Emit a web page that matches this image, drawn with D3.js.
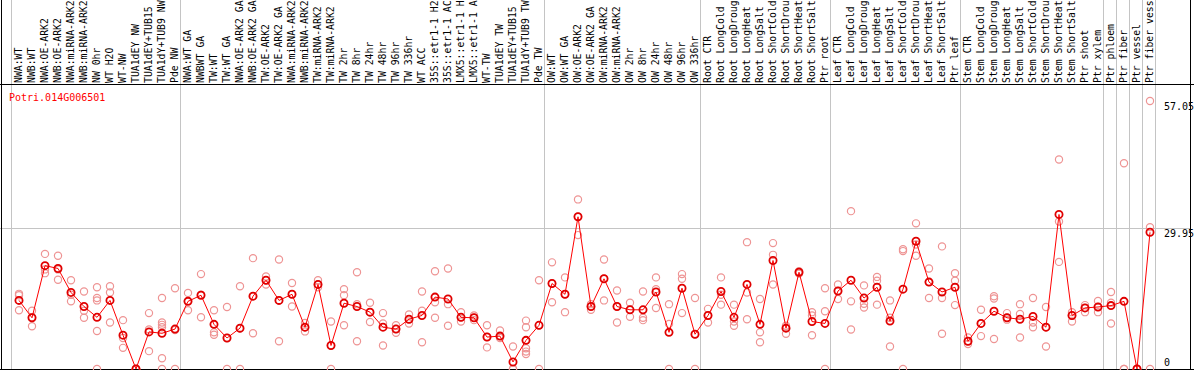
<!DOCTYPE html>
<html>
<head>
<meta charset="utf-8">
<script src="https://cdn.jsdelivr.net/npm/d3@7"></script>
<style>
  html, body { margin: 0; padding: 0; background: #fff; }
  svg { display: block; }
  text { font-family: "DejaVu Sans Mono", "Liberation Mono", monospace; font-size: 10px; }
  .cat { font-size: 9.8px; }
</style>
</head>
<body>
<div id="chart"></div>
<script>
const title = "Potri.014G006501";

const categories = [
  "NWA:WT", "NWB:WT", "NWA:OE-ARK2", "NWB:OE-ARK2", "NWA:miRNA-ARK2", "NWB:miRNA-ARK2",
  "NW 0hr", "WT H2O", "WT-NW", "TUA1dEY NW", "TUA1dEY+TUB15 NW", "TUA1dY+TUB9 NW", "Pde NW",
  "NWA:WT GA", "NWBWT GA", "TW:WT", "TW:WT GA", "NWA:OE-ARK2 GA", "NWB:OE-ARK2 GA",
  "TW:OE-ARK2", "TW:OE-ARK2 GA", "NWA:miRNA-ARK2 GA", "NWB:miRNA-ARK2 GA", "TW:miRNA-ARK2",
  "TW:miRNA-ARK2 GA", "TW 2hr", "TW 8hr", "TW 24hr", "TW 48hr", "TW 96hr", "TW 336hr",
  "WT ACC", "35S::etr1-1 H2O", "35S::etr1-1 ACC", "LMX5::etr1-1 H2O", "LMX5::etr1-1 ACC",
  "WT-TW", "TUA1dEY TW", "TUA1dEY+TUB15 TW", "TUA1dY+TUB9 TW", "Pde TW",
  "OW:WT", "OW:WT GA", "OW:OE-ARK2", "OW:OE-ARK2 GA", "OW:miRNA-ARK2", "OW:miRNA-ARK2 GA",
  "OW 2hr", "OW 8hr", "OW 24hr", "OW 48hr", "OW 96hr", "OW 336hr",
  "Root CTR", "Root LongCold", "Root LongDrought", "Root LongHeat", "Root LongSalt",
  "Root ShortCold", "Root ShortDrought", "Root ShortHeat", "Root ShortSalt", "Ptr root",
  "Leaf CTR", "Leaf LongCold", "Leaf LongDrought", "Leaf LongHeat", "Leaf LongSalt",
  "Leaf ShortCold", "Leaf ShortDrought", "Leaf ShortHeat", "Leaf ShortSalt", "Ptr leaf",
  "Stem CTR", "Stem LongCold", "Stem LongDrought", "Stem LongHeat", "Stem LongSalt",
  "Stem ShortCold", "Stem ShortDrought", "Stem ShortHeat", "Stem ShortSalt", "Ptr shoot",
  "Ptr xylem", "Ptr phloem", "Ptr fiber", "Ptr vessel", "Ptr fiber vessel"
];

// index of the last category of each group (-1 = before the first)
const groupEnds = [-1, 12, 40, 52, 62, 72, 83, 84, 85, 86, 87];

const means = [
  14.6, 10.9, 22.0, 21.4, 16.3, 13.3, 11.0, 14.6, 7.2, 0,
  7.9, 7.6, 8.5, 14.4, 15.7, 9.5, 6.6, 8.7, 15.5, 18.9,
  14.6, 15.9, 8.9, 18.0, 5.0, 14.0, 13.3, 12.1, 8.9, 8.5,
  10.6, 11.4, 15.3, 14.9, 11.0, 10.9, 6.8, 7.0, 1.5, 6.1,
  9.3, 18.2, 15.9, 32.4, 13.3, 19.2, 13.3, 12.6, 12.6, 16.4,
  7.8, 17.2, 7.4, 11.4, 16.5, 11.0, 18.0, 9.5, 23.1, 8.7,
  20.6, 10.1, 9.7, 16.6, 18.9, 15.1, 17.4, 10.2, 17.0, 27.2,
  18.5, 16.4, 17.4, 5.9, 9.7, 12.3, 10.9, 10.6, 11.2, 8.9,
  32.9, 11.4, 13.0, 13.2, 13.5, 14.4, 0, 29.1
];

const replicates = [
  [16.0, 15.7, 12.5], [12.4, 11.0, 9.1], [24.5, 21.2, 20.4], [24.1, 21.2, 19.0],
  [18.9, 15.8, 14.4], [16.5, 12.4, 10.9], [17.4, 15.1, 14.6, 8.1, 0], [17.6, 16.3, 9.9],
  [10.4, 6.6, 4.5], [0, 0, 0], [11.9, 8.4, 3.8], [15.1, 9.9, 9.4, 8.9, 2.3, 0],
  [17.2, 8.3, 0], [16.2, 14.5, 12.5], [20.2, 15.8, 11.0], [12.5, 7.8, 7.3],
  [13.2, 6.6, 0], [17.6, 8.6, 0], [23.6, 15.5, 7.6], [19.7, 18.9, 18.0],
  [23.3, 14.6, 5.9], [18.3, 15.9, 13.3], [9.8, 8.9, 8.0], [18.9, 18.0, 17.4],
  [10.1, 5.0, 0], [17.0, 15.7, 9.3], [20.6, 13.8, 5.9], [14.1, 12.1, 10.0],
  [11.9, 9.7, 5.0], [9.3, 8.5, 7.7], [11.6, 10.6, 9.7], [16.5, 12.4, 5.7],
  [20.8, 14.2, 10.9], [21.4, 13.8, 9.2], [12.1, 11.0, 10.1], [11.4, 10.9, 10.4],
  [9.3, 6.8, 4.6], [8.2, 7.0, 6.6], [4.8, 0, 0], [10.3, 8.9, 6.1, 4.4, 3.7, 3.2],
  [18.9, 9.3, 0], [22.7, 18.2, 14.2], [19.5, 15.9, 12.1], [36.1, 32.4, 28.5],
  [13.8, 13.3, 12.6], [23.3, 19.2, 14.6], [16.7, 13.3, 9.9], [14.1, 12.6, 11.1],
  [16.5, 10.9, 10.4], [19.5, 17.0, 13.0], [13.8, 9.6, 0], [20.2, 19.2, 11.9],
  [15.1, 7.4, 0], [12.8, 11.4, 9.9], [19.5, 15.8, 13.7], [13.7, 10.1, 9.2],
  [27.0, 16.3, 10.6], [14.9, 7.8, 5.7], [26.8, 24.3, 18.0], [9.2, 8.7, 7.5],
  [20.8, 20.6, 20.3], [12.1, 11.4, 7.2], [17.2, 12.3, 0], [18.0, 16.6, 14.9],
  [33.6, 14.4, 8.4], [17.8, 13.9, 13.1], [19.6, 18.8, 13.7], [14.6, 10.9, 4.8],
  [25.5, 25.1, 0], [31.0, 26.5, 24.1], [21.4, 18.5, 15.1], [26.1, 15.1, 7.5],
  [20.4, 18.8, 13.6], [6.7, 5.9, 5.3], [12.6, 9.7, 7.0], [15.5, 15.0, 6.4],
  [11.9, 10.9, 10.5], [13.8, 11.7, 6.7], [15.1, 9.9, 8.9], [13.2, 8.9, 4.8],
  [44.6, 31.4, 22.8], [12.1, 11.4, 10.1], [13.6, 13.0, 12.1], [14.5, 13.2, 12.1],
  [16.4, 14.1, 9.7], [43.8, 0, 0], [0, 0, 0], [57.05, 30.2, 0]
];

const yTicks = [0, 29.95, 57.05];
const yMax = 59.9;
const maxLabelChars = 14;

const W = 1194, H = 370;
const svg = d3.select("#chart").append("svg").attr("width", W).attr("height", H);

const x = d3.scalePoint().domain(categories).range([19, 1150]);
const y = d3.scaleLinear().domain([0, yMax]).range([369, 87.6]);
const step = x.step();

// group separators
const sepX = g => Math.floor((g < 0 ? x(categories[0]) - step : x(categories[g])) + 5.3) + 0.5;
svg.append("g").selectAll("line").data(groupEnds).join("line")
  .attr("x1", sepX).attr("x2", sepX)
  .attr("y1", 0).attr("y2", H)
  .attr("stroke", "#c4c4c4").attr("stroke-width", 1);

// mid gridline
svg.append("line")
  .attr("x1", 0).attr("x2", 1190)
  .attr("y1", Math.round(y(yMax / 2)) + 0.5).attr("y2", Math.round(y(yMax / 2)) + 0.5)
  .attr("stroke", "#c4c4c4").attr("stroke-width", 1);

// frame
svg.append("line").attr("x1", 0).attr("x2", W).attr("y1", 84.5).attr("y2", 84.5).attr("stroke", "#000");
svg.append("line").attr("x1", 0).attr("x2", W).attr("y1", 369.5).attr("y2", 369.5).attr("stroke", "#000");
svg.append("line").attr("x1", 1.5).attr("x2", 1.5).attr("y1", 0).attr("y2", H).attr("stroke", "#000");
svg.append("line").attr("x1", 1190.5).attr("x2", 1190.5).attr("y1", 0).attr("y2", H).attr("stroke", "#000");

// category labels (the header shows only the first 14 characters of each)
svg.append("g").selectAll("text").data(categories).join("text")
  .attr("class", "cat")
  .attr("transform", d => `translate(${x(d) + 3},83) rotate(-90)`)
  .attr("text-anchor", "start")
  .attr("fill", "#000")
  .text(d => d.slice(0, maxLabelChars).trimEnd());

// title
svg.append("text").attr("x", 9).attr("y", 100.5).attr("fill", "#ff0000").text(title);

// y tick labels
svg.append("g").selectAll("text").data(yTicks).join("text")
  .attr("x", 1164)
  .attr("y", d => Math.min(y(d) + 9, 366))
  .attr("fill", "#000")
  .text(d => d);

// replicate points
const repData = [];
replicates.forEach((arr, i) => arr.forEach(v => repData.push({ c: categories[i], v })));
svg.append("g").selectAll("circle").data(repData).join("circle")
  .attr("cx", d => x(d.c))
  .attr("cy", d => y(d.v))
  .attr("r", 3.6)
  .attr("fill", "none")
  .attr("stroke", "#ee9494")
  .attr("stroke-width", 1.2);

// mean line
const meanData = categories.map((c, i) => ({ c, v: means[i] }));
svg.append("path").datum(meanData)
  .attr("fill", "none")
  .attr("stroke", "#ff0000")
  .attr("stroke-width", 1)
  .attr("d", d3.line().x(d => x(d.c)).y(d => y(d.v)));

// mean markers
svg.append("g").selectAll("circle").data(meanData).join("circle")
  .attr("cx", d => x(d.c))
  .attr("cy", d => y(d.v))
  .attr("r", 3.6)
  .attr("fill", "none")
  .attr("stroke", "#e00000")
  .attr("stroke-width", 1.8);
</script>
</body>
</html>
